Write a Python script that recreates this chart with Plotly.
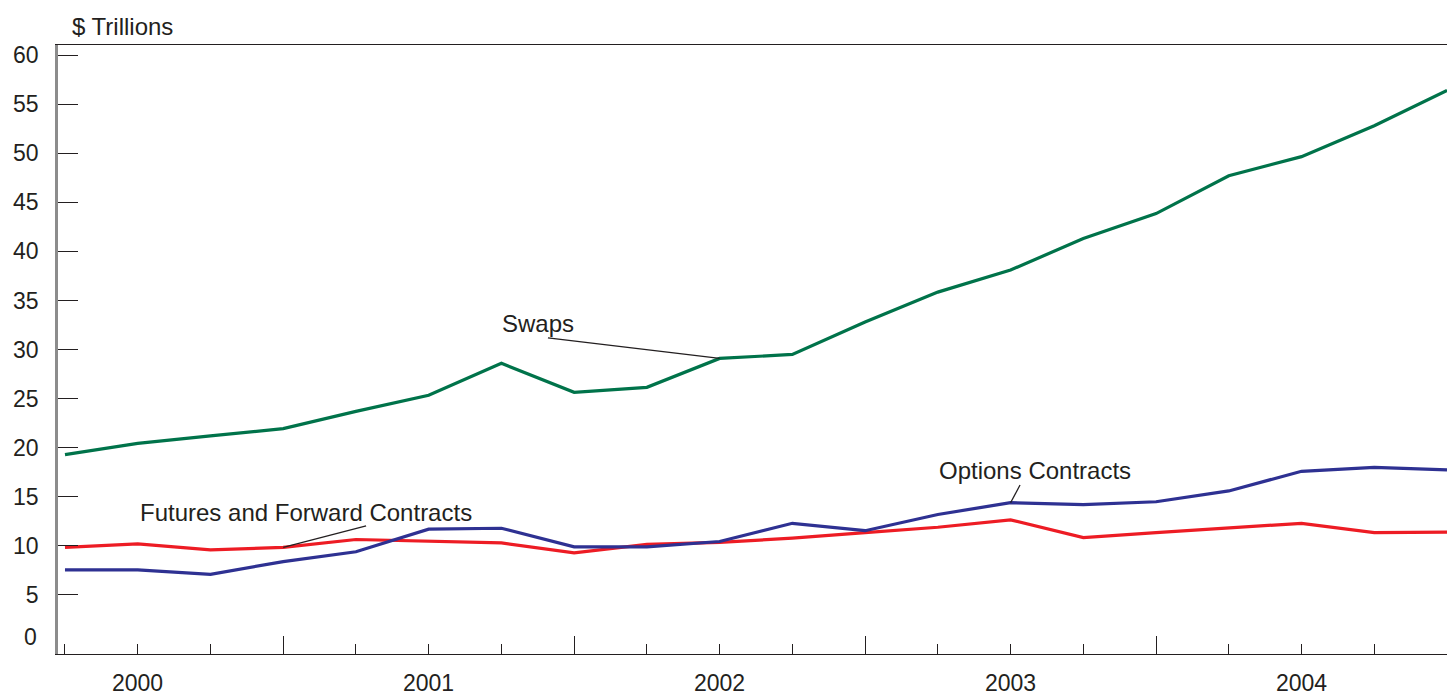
import plotly.graph_objects as go

# Quarterly observations (index 0..19)
quarters = list(range(20))
swaps = [19.3, 20.45, 21.2, 21.95, 23.7, 25.35, 28.6, 25.65, 26.15, 29.1,
         29.5, 32.8, 35.85, 38.1, 41.3, 43.85, 47.7, 49.65, 52.8, 56.4]
futures = [9.85, 10.2, 9.6, 9.85, 10.65, 10.45, 10.3, 9.3, 10.15, 10.35,
           10.8, 11.35, 11.9, 12.65, 10.85, 11.35, 11.8, 12.3, 11.35, 11.4]
options = [7.55, 7.55, 7.1, 8.4, 9.4, 11.7, 11.8, 9.9, 9.9, 10.45,
           12.3, 11.55, 13.2, 14.4, 14.2, 14.5, 15.6, 17.6, 18.0, 17.75]

year_labels = ["2000", "2001", "2002", "2003", "2004"]
year_positions = [1, 5, 9, 13, 17]
year_boundaries = [3, 7, 11, 15]
y_ticks = [5, 10, 15, 20, 25, 30, 35, 40, 45, 50, 55, 60]

GREEN = "#00734a"
RED = "#ed1c24"
BLUE = "#2e3192"
TXT = "#231f20"
FONT = "Liberation Sans, Arial, sans-serif"
NUM = 23
LAB = 24

fig = go.Figure()
for name, vals, col in [("Swaps", swaps, GREEN),
                        ("Futures and Forward Contracts", futures, RED),
                        ("Options Contracts", options, BLUE)]:
    fig.add_trace(go.Scatter(x=quarters, y=vals, mode="lines", name=name,
                             line=dict(color=col, width=3.2), cliponaxis=True))

fig.update_layout(
    width=1447, height=693,
    margin=dict(l=58, r=0, t=45, b=39),
    paper_bgcolor="white", plot_bgcolor="white",
    showlegend=False,
    font=dict(family=FONT, size=NUM, color=TXT),
)

fig.update_xaxes(
    range=[-0.096, 19.0],
    showgrid=False, zeroline=False,
    showline=True, linecolor=TXT, linewidth=1.3, mirror=True,
    tickmode="array", tickvals=year_boundaries, showticklabels=False,
    ticks="inside", ticklen=18, tickwidth=1.3, tickcolor=TXT,
    minor=dict(tickmode="array", tickvals=list(range(19)), ticks="inside",
               ticklen=10, tickwidth=1.3, tickcolor=TXT, showgrid=False),
)
fig.update_yaxes(
    range=[-1.01, 61.02],
    showgrid=False, zeroline=False,
    showline=True, linecolor="#8c8c8c", linewidth=2.5,
    tickmode="array", tickvals=y_ticks,
    ticks="inside", ticklen=20, tickwidth=1.3, tickcolor=TXT,
    ticklabelstandoff=12,
    tickfont=dict(size=NUM, color=TXT, family=FONT),
)

# "0" label (no tick mark in original)
fig.add_annotation(x=0, xref="paper", y=0, yref="y", text="0", showarrow=False,
                   xanchor="right", yanchor="middle", xshift=-19, yshift=7,
                   font=dict(size=NUM, color=TXT, family=FONT))

# Year labels
for lab, pos in zip(year_labels, year_positions):
    fig.add_annotation(x=pos, xref="x", y=0, yref="paper", text=lab,
                       showarrow=False, xanchor="center", yanchor="middle",
                       yshift=-29, font=dict(size=NUM, color=TXT, family=FONT))

# Axis title
fig.add_annotation(x=0, xref="paper", y=1, yref="paper", text="$ Trillions",
                   showarrow=False, xanchor="left", yanchor="middle",
                   xshift=12, yshift=19, font=dict(size=LAB, color=TXT, family=FONT))

# Series labels
labels = [
    ("Swaps", 6.50, 32.7),
    ("Futures and Forward Contracts", 3.31, 13.45),
    ("Options Contracts", 13.34, 17.73),
]
for txt, lx, ly in labels:
    fig.add_annotation(x=lx, y=ly, text=txt, showarrow=False,
                       xanchor="center", yanchor="middle",
                       font=dict(size=LAB, color=TXT, family=FONT))

# Leader lines (from label to series point)
leaders = [(6.64, 31.18, 9, swaps), (4.14, 12.03, 3, futures), (13.13, 16.2, 13, options)]
for x0, y0, idx, series in leaders:
    fig.add_shape(type="line", x0=x0, y0=y0, x1=quarters[idx], y1=series[idx],
                  line=dict(color=TXT, width=1.3))

fig.write_html(
    "out.html",
    config={"displayModeBar": False},
    post_script="document.body.style.margin='0';document.body.style.overflow='hidden';",
)
